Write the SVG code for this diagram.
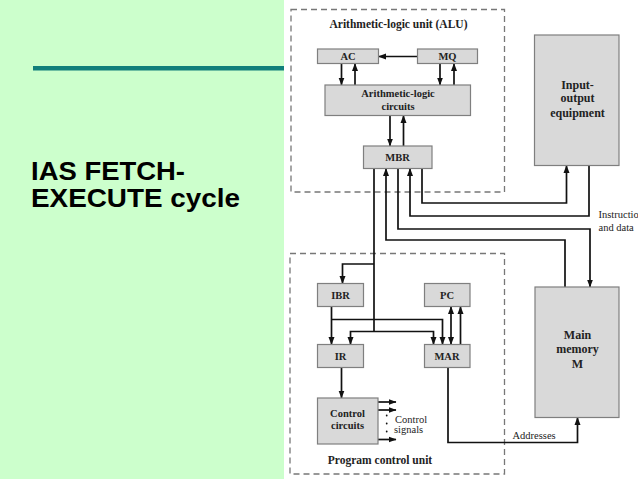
<svg xmlns="http://www.w3.org/2000/svg" width="638" height="479" viewBox="0 0 638 479">
<defs>
<style>
.box{fill:#d9d9d9;stroke:#7f7f7f;stroke-width:1.2}
.dash{fill:none;stroke:#777;stroke-width:1.3;stroke-dasharray:6,4}
.c{fill:none;stroke:#111;stroke-width:1.7}
.lb{font-family:"Liberation Serif",serif;font-weight:bold;font-size:10.5px;fill:#222;text-anchor:middle}
.big{font-family:"Liberation Serif",serif;font-weight:bold;font-size:12px;fill:#222;text-anchor:middle}
.ttl{font-family:"Liberation Serif",serif;font-weight:bold;font-size:11.5px;fill:#222;text-anchor:middle}
.sm{font-family:"Liberation Serif",serif;font-size:10.5px;fill:#222}
.head{font-family:"Liberation Sans",Arial,sans-serif;font-weight:bold;font-size:25px;fill:#000}
</style>
<marker id="ah" markerUnits="userSpaceOnUse" markerWidth="8" markerHeight="8" viewBox="0 0 8 8" refX="7.5" refY="4" orient="auto">
<path d="M0,1 L8,4 L0,7 Z" fill="#111"/>
</marker>
<marker id="as" markerUnits="userSpaceOnUse" markerWidth="8" markerHeight="8" viewBox="0 0 8 8" refX="0.5" refY="4" orient="auto">
<path d="M8,1 L0,4 L8,7 Z" fill="#111"/>
</marker>
</defs>
<rect x="0" y="0" width="638" height="479" fill="#ccffcc"/>
<rect x="284" y="0" width="354" height="479" fill="#ffffff"/>
<rect x="33" y="66" width="251" height="4.5" fill="#107f7a"/>
<text class="head" x="31" y="180" textLength="154" lengthAdjust="spacingAndGlyphs">IAS FETCH-</text>
<text class="head" x="31" y="206.5" textLength="209" lengthAdjust="spacingAndGlyphs">EXECUTE cycle</text>

<g id="alu">
<rect class="dash" x="291" y="9.5" width="213.5" height="182.5"/>
<text class="ttl" x="398.5" y="28.3">Arithmetic-logic unit (ALU)</text>
</g>
<g id="pcu">
<rect class="dash" x="290" y="253.5" width="214.5" height="220.5"/>
<text class="ttl" x="380" y="463.5">Program control unit</text>
</g>

<g id="connectors">
<path class="c" d="M417,56.5 H378.5" marker-end="url(#ah)"/>
<path class="c" d="M341.5,63.5 V85" marker-end="url(#ah)"/>
<path class="c" d="M355,85 V63.5" marker-end="url(#ah)"/>
<path class="c" d="M440,63.5 V85" marker-end="url(#ah)"/>
<path class="c" d="M454,85 V63.5" marker-end="url(#ah)"/>
<path class="c" d="M390,115.5 V146" marker-end="url(#ah)"/>
<path class="c" d="M403.5,146 V115.5" marker-end="url(#ah)"/>
<path class="c" d="M422,168.5 V203 H566.5 V165.5" marker-end="url(#ah)"/>
<path class="c" d="M589,165.5 V216 H410 V168.5" marker-end="url(#ah)"/>
<path class="c" d="M398,168.5 V229 H590 V287" marker-end="url(#ah)"/>
<path class="c" d="M565,287 V240 H386 V168.5" marker-end="url(#ah)"/>
<path class="c" d="M374,168.5 V331.5"/>
<path class="c" d="M374,264 H342.5 V283.5" marker-end="url(#ah)"/>
<path class="c" d="M350.5,344.5 V331.5 H433.5 V344.5" marker-start="url(#as)" marker-end="url(#ah)"/>
<path class="c" d="M331.5,306.5 V344.5" marker-end="url(#ah)"/>
<path class="c" d="M331.5,319.5 H442.5 V344.5" marker-end="url(#ah)"/>
<path class="c" d="M451,306.5 V344.5" marker-start="url(#as)" marker-end="url(#ah)"/>
<path class="c" d="M460.5,344.5 V306.5" marker-end="url(#ah)"/>
<path class="c" d="M341.5,367.5 V398" marker-end="url(#ah)"/>
<path class="c" d="M378,402 H396" marker-end="url(#ah)"/>
<path class="c" d="M378,410 H396" marker-end="url(#ah)"/>
<path class="c" d="M378,439.5 H396" marker-end="url(#ah)"/>
<path class="c" d="M448,367.5 V442.5 H577.5 V417.5" marker-end="url(#ah)"/>
</g>

<g id="ac"><rect class="box" x="317.5" y="49" width="61" height="14.5"/><text class="lb" x="348" y="60">AC</text></g>
<g id="mq"><rect class="box" x="417.5" y="49" width="60" height="14.5"/><text class="lb" x="447.5" y="60">MQ</text></g>
<g id="alc"><rect class="box" x="325" y="85" width="145.5" height="30.5"/><text class="lb" x="398" y="97">Arithmetic-logic</text><text class="lb" x="398" y="110">circuits</text></g>
<g id="mbr"><rect class="box" x="363.5" y="146" width="68.5" height="22.5"/><text class="lb" x="397.5" y="160.5">MBR</text></g>
<g id="io"><rect class="box" x="534.5" y="35" width="84.5" height="130.5"/><text class="big" x="577.5" y="88.5">Input-</text><text class="big" x="577.5" y="102">output</text><text class="big" x="577.5" y="116.5">equipment</text></g>
<g id="mm"><rect class="box" x="535" y="287" width="84" height="130.5"/><text class="big" x="577.5" y="338.5">Main</text><text class="big" x="577.5" y="353">memory</text><text class="big" x="577.5" y="367.5">M</text></g>
<g id="ibr"><rect class="box" x="317.5" y="283.5" width="46" height="23"/><text class="lb" x="340.5" y="298.5">IBR</text></g>
<g id="pc"><rect class="box" x="424.5" y="283.5" width="45.5" height="23"/><text class="lb" x="447" y="298.5">PC</text></g>
<g id="ir"><rect class="box" x="317.5" y="344.5" width="46" height="23"/><text class="lb" x="340.5" y="360">IR</text></g>
<g id="mar"><rect class="box" x="424.5" y="344.5" width="45.5" height="23"/><text class="lb" x="447" y="360">MAR</text></g>
<g id="ctrl"><rect class="box" x="317.5" y="398" width="60.5" height="46"/><text class="lb" x="347.5" y="416.5">Control</text><text class="lb" x="347.5" y="428.5">circuits</text></g>

<g id="labels">
<circle cx="386.7" cy="415.5" r="0.9" fill="#111"/>
<circle cx="386.7" cy="423.5" r="0.9" fill="#111"/>
<circle cx="386.7" cy="431.5" r="0.9" fill="#111"/>
<text class="sm" x="395" y="422.5">Control</text>
<text class="sm" x="394" y="433">signals</text>
<text class="sm" x="512.5" y="438.5">Addresses</text>
<text class="sm" x="598.5" y="218">Instructions</text>
<text class="sm" x="598.5" y="231">and data</text>
</g>
</svg>
